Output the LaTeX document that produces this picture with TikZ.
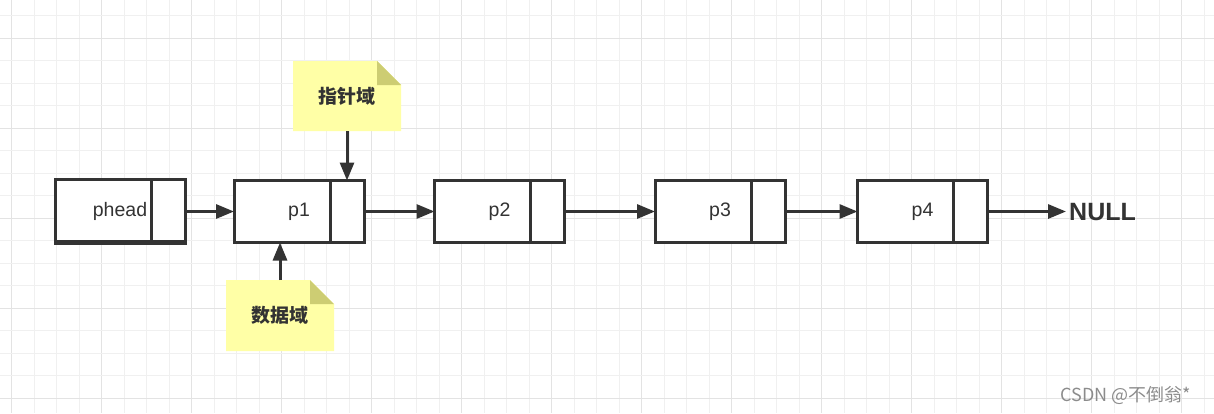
\documentclass[tikz,border=0pt]{standalone}
\usepackage{fontspec}
\setmainfont{Liberation Sans}
\newfontfamily\cjk{Noto Sans CJK SC}
\usetikzlibrary{arrows.meta, positioning}
\pgfdeclarelayer{bg}
\pgfsetlayers{bg,main}
\definecolor{ink}{HTML}{333333}
\definecolor{notefill}{HTML}{FFFFA6}
\definecolor{notefold}{HTML}{CDCD73}

\begin{document}
\begin{tikzpicture}[x=1pt,y=-1pt,
    datafield/.style={draw=ink, line width=3pt, outer sep=0pt, inner sep=0pt,
        minimum width=96pt, minimum height=62pt},
    ptrfield/.style={datafield, minimum width=34pt},
    fieldtext/.style={text=ink, font=\fontsize{19.5}{22}\selectfont},
    link/.style={draw=ink, line width=3pt, -{Triangle[length=18pt,width=14pt]}},
    note/.style={minimum width=108pt, minimum height=70pt, inner sep=0pt, outer sep=0pt,
        text=ink, font=\cjk\bfseries\fontsize{19}{22}\selectfont}]
    \useasboundingbox (0,0) rectangle (1214,413);
    \node[datafield, minimum height=64pt] (phead) at (103,211.5) {};
    \node[ptrfield, minimum height=64pt, right=0pt of phead] (phead-n) {};
    \node[fieldtext] at ([xshift=17pt]phead.center) {phead};
    \foreach \name/\x in {p1/282,p2/482.5,p3/703,p4/905.5} {
        \node[datafield] (\name) at (\x,211.5) {};
        \node[ptrfield, right=0pt of \name] (\name-n) {};
        \node[fieldtext] at ([xshift=17pt]\name.center) {\name};
    }
    \draw[draw=ink, line width=2pt] ([yshift=3pt]phead.south west) -- ([yshift=3pt]phead-n.south east);
    \foreach \a/\b in {phead/p1,p1/p2,p2/p3,p3/p4}
        \draw[link] (\a-n.east) -- (\b.west);
    \node[anchor=west, inner sep=3pt, text=ink, font=\fontsize{25}{28}\selectfont\bfseries] (null) at (1066,212.5) {NULL};
    \draw[link] (p4-n.east) -- (p4-n.east -| null.west);
    \node[note] (ptrnote) at (347,96) {指针域};
    \node[note, minimum height=71pt] (datanote) at (280,315.5) {数据域};
    \draw[link] (ptrnote.south) -- (p1-n.north);
    \draw[link] (datanote.north) -- (datanote.north |- p1.south);
    \node[text=black!45, font=\cjk\fontsize{18}{20}\selectfont] (mark) at (1126,395) {CSDN @不倒翁*};
    \begin{pgfonlayer}{bg}
        \fill[white] (0,0) rectangle (1214,413);
        \foreach \i in {0,...,53} {
            \pgfmathsetmacro\gx{11.7+22.5*\i}
            \pgfmathtruncatemacro\major{mod(\i,4)==0}
            \ifnum\major=1 \draw[black!11, line width=1.3pt] (\gx,0) -- (\gx,413);
            \else \draw[black!6, line width=1.3pt] (\gx,0) -- (\gx,413); \fi
        }
        \foreach \j in {0,...,17} {
            \pgfmathsetmacro\gy{15.7+22.5*\j}
            \pgfmathtruncatemacro\major{mod(\j,4)==1}
            \ifnum\major=1 \draw[black!11, line width=1.3pt] (0,\gy) -- (1214,\gy);
            \else \draw[black!6, line width=1.3pt] (0,\gy) -- (1214,\gy); \fi
        }
        \foreach \n in {ptrnote,datanote} {
            \fill[notefill] (\n.north west) -- ([xshift=-24pt]\n.north east) -- ([yshift=-24pt]\n.north east)
                -- (\n.south east) -- (\n.south west) -- cycle;
            \fill[notefold] ([xshift=-24pt]\n.north east) -- ([xshift=-24pt,yshift=-24pt]\n.north east)
                -- ([yshift=-24pt]\n.north east) -- cycle;
        }
        \foreach \name in {phead,p1,p2,p3,p4}
            \fill[white] (\name.north west) rectangle (\name-n.south east);
    \end{pgfonlayer}
\end{tikzpicture}
\end{document}
